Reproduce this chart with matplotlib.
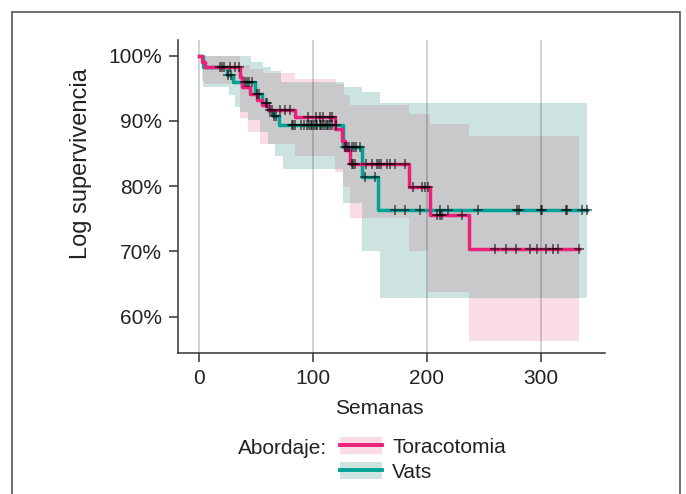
import numpy as np
import matplotlib
matplotlib.use("Agg")
import matplotlib.pyplot as plt
from matplotlib.patches import Patch, Rectangle
from matplotlib.lines import Line2D

plt.rcParams['font.family'] = ['Liberation Sans', 'DejaVu Sans']

# Toracotomia: KM steps, CI bands, censored times
tor_t = [0, 2.4, 5.3, 36, 37.5, 44.8, 50.7, 55, 61, 84, 119.5, 125.4, 128.3, 132.7, 184.5, 202.5, 236.7]
tor_s = [100, 99.1, 98.2, 96.8, 95.2, 94.2, 93.2, 92.4, 91.7, 90.6, 88.8, 87.0, 85.5, 83.4, 79.8, 75.6, 70.4]
tor_end = 333.3
tor_up_t = [0, 36, 45, 56, 84, 120, 127, 132.7, 184, 203, 237.5]
tor_up = [100, 98.6, 98.0, 97.3, 96.5, 95.7, 94.0, 92.4, 91.0, 89.5, 87.7]
tor_lo_t = [0, 2.4, 5.3, 36, 43, 53.6, 84.4, 119.5, 126.8, 132.7, 184, 201.5, 237.5]
tor_lo = [100, 96.0, 95.7, 90.5, 88.3, 86.5, 84.7, 82.2, 79.8, 75.2, 70.0, 63.8, 56.3]
tor_cens = [18.5, 20, 22, 27, 32, 35, 71, 75.6, 80, 96, 103, 106, 109, 115, 116.5,
            134, 135.5, 137, 147, 151.5, 156, 158, 160, 165, 168, 172.5, 181,
            188, 196, 198.6, 201, 209, 212, 213, 231,
            260, 270, 278, 291, 297, 305, 311, 315, 333.3]

# Vats
vat_t = [0, 3.8, 24.3, 30.2, 49, 55, 61, 65, 70, 126.8, 143, 157.6]
vat_s = [100, 98.2, 97.0, 95.9, 94.2, 92.7, 91.6, 90.8, 89.3, 86.0, 81.4, 76.4]
vat_end = 340.7
vat_up_t = [0, 46, 56, 63, 72, 127, 143, 159]
vat_up = [100, 99.1, 98.3, 97.6, 96.0, 95.2, 94.5, 92.7]
vat_lo_t = [0, 3.8, 26, 32, 36, 43, 53.6, 61, 66.8, 74, 126.8, 143, 159]
vat_lo = [100, 95.2, 94.0, 92.2, 91.4, 90.1, 88.3, 86.5, 84.7, 82.7, 77.5, 70.1, 62.9]
vat_cens = [25.5, 28, 40, 42, 44, 47, 51, 53, 58.5, 60, 62.5, 64, 66, 68,
            81.5, 83, 84.5, 90, 92, 95, 96.5, 98, 99.5, 101, 102.5, 104, 106, 107.5,
            109, 110.5, 112, 113.5, 115, 117, 120,
            128, 130, 132, 134, 136, 138, 141, 146, 154.7,
            172, 181, 194, 211.6, 219, 245, 279, 281, 300, 301.5, 322, 323.5, 336.6, 340.7]

pink, pink_fill = '#E9217A', '#FADDE4'
teal, teal_fill = '#00A396', '#CCE3E0'
overlap_fill = '#C9C8CB'
txt = '#222222'


def step_at(ts, vs, x):
    idx = np.searchsorted(ts, x, side='right') - 1
    return np.asarray(vs)[idx]


def extend(ts, vs, end):
    return np.append(ts, end), np.append(vs, vs[-1])


fig = plt.figure(figsize=(6.86, 4.94), dpi=100)
ax = fig.add_axes([178 / 686, 1 - 353 / 494, 427 / 686, 313 / 494])

# CI bands
for up_t, up, lo_t, lo, end, col in [(tor_up_t, tor_up, tor_lo_t, tor_lo, tor_end, pink_fill),
                                       (vat_up_t, vat_up, vat_lo_t, vat_lo, vat_end, teal_fill)]:
    grid = np.unique(np.concatenate([up_t, lo_t, [end]]))
    ax.fill_between(grid, step_at(up_t, up, grid), step_at(lo_t, lo, grid),
                    step='post', color=col, lw=0, zorder=1)

# overlap of the two bands
grid = np.unique(np.concatenate([tor_up_t, tor_lo_t, vat_up_t, vat_lo_t, [tor_end]]))
grid = grid[grid <= tor_end]
hi = np.minimum(step_at(tor_up_t, tor_up, grid), step_at(vat_up_t, vat_up, grid))
lo = np.maximum(step_at(tor_lo_t, tor_lo, grid), step_at(vat_lo_t, vat_lo, grid))
ax.fill_between(grid, hi, lo, where=hi >= lo, step='post', color=overlap_fill, lw=0,
                zorder=1.1, interpolate=False)

# survival curves
for ts, ss, end, col, cens in [(vat_t, vat_s, vat_end, teal, vat_cens),
                               (tor_t, tor_s, tor_end, pink, tor_cens)]:
    x, y = extend(ts, ss, end)
    ax.step(x, y, where='post', color=col, lw=2.5, zorder=2)
    ax.plot(cens, step_at(ts, ss, np.array(cens)), ls='none', marker='+', ms=6.5,
            mew=1.1, color='black', alpha=0.65, zorder=3)

ax.set_xlim(-18.4, 356.5)
ax.set_ylim(54.44, 102.4)
ax.set_xticks([0, 100, 200, 300])
ax.set_yticks([60, 70, 80, 90, 100])
ax.set_yticklabels(['60%', '70%', '80%', '90%', '100%'])
ax.grid(axis='x', color='black', alpha=0.2, lw=1.2)
ax.set_axisbelow('line')
for s in ['top', 'right']:
    ax.spines[s].set_visible(False)
for s in ['left', 'bottom']:
    ax.spines[s].set_color('#333333')
    ax.spines[s].set_linewidth(1.1)
ax.tick_params(length=6.5, width=1.1, color='#333333', labelsize=15, labelcolor=txt, pad=5)
ax.set_xlabel('Semanas', fontsize=15, color=txt)
ax.set_ylabel('Log supervivencia', fontsize=17, color=txt)
ax.xaxis.set_label_coords(0.471, -0.148)
ax.yaxis.set_label_coords(-0.202, 0.604)

# legend
handles = [(Patch(fc=pink_fill, ec='none'), Line2D([], [], color=pink, lw=2.8)),
           (Patch(fc=teal_fill, ec='none'), Line2D([], [], color=teal, lw=2.8))]
fig.legend(handles, ['Toracotomia', 'Vats'], loc='upper left',
           bbox_to_anchor=(340 / 686, 1 - 437 / 494), frameon=False, fontsize=15,
           handlelength=2, handleheight=0.9, handletextpad=0.5, labelspacing=0.25,
           borderpad=0, borderaxespad=0, labelcolor=txt)
fig.text(238 / 686, 1 - 448 / 494, 'Abordaje:', fontsize=15, color=txt, va='center', ha='left')

# outer frame
fig.patches.append(Rectangle((12 / 686, -0.1), 668 / 686, 1.1 - 12 / 494, transform=fig.transFigure,
                             fill=False, ec='#555555', lw=1.2, zorder=0))

fig.savefig('out.png', dpi=100)
